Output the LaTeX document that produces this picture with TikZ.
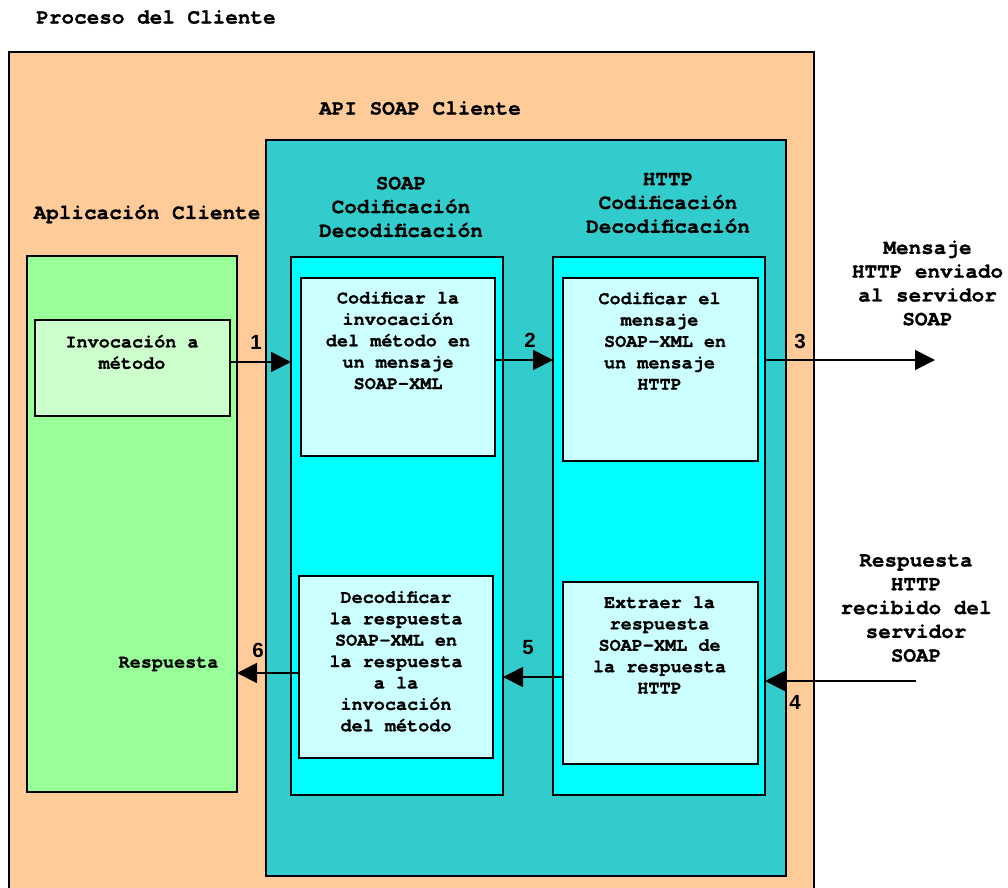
\documentclass[tikz,border=0pt]{standalone}
\usepackage{fontspec}
\setmainfont{TeX Gyre Cursor}[BoldFeatures={FakeBold=1}]
\newfontfamily\numfont{Liberation Sans}
\usetikzlibrary{arrows.meta}
\definecolor{procfill}{HTML}{FFCC99}
\definecolor{apifill}{HTML}{33CCCC}
\definecolor{appfill}{HTML}{99FF99}
\definecolor{invfill}{HTML}{CCFFCC}
\definecolor{colfill}{HTML}{00FFFF}
\definecolor{stepfill}{HTML}{CCFFFF}
\begin{document}
\begin{tikzpicture}[x=1pt,y=-1pt,
  frame/.style={draw=black, line width=1.8pt, inner sep=0pt, outer sep=0pt, anchor=north west},
  boxtext/.style={font=\bfseries\fontsize{18.5}{21.4}\selectfont, align=center, inner sep=0pt},
  head/.style={font=\bfseries\fontsize{21}{23.8}\selectfont, align=center, inner sep=0pt},
  num/.style={font=\numfont\bfseries\fontsize{20.5}{24}\selectfont, inner sep=0pt},
  arr/.style={line width=1.8pt, -{Triangle[length=20pt,width=20pt]}}]
\useasboundingbox[fill=white] (0,0) rectangle (1008,887);

% nested containers
\node[frame, fill=procfill, minimum width=805pt, minimum height=900pt] (proc) at (9,52) {};
\node[frame, fill=apifill, minimum width=520pt, minimum height=736pt] (api) at (266,140) {};
\node[frame, fill=appfill, minimum width=210pt, minimum height=536pt] (app) at (27,256) {};
\node[frame, fill=invfill, minimum width=195pt, minimum height=96pt] (inv) at (35,320) {};
\node[frame, fill=colfill, minimum width=212pt, minimum height=538pt] (soapcol) at (291,257) {};
\node[frame, fill=colfill, minimum width=212pt, minimum height=538pt] (httpcol) at (553,257) {};

% processing steps
\node[frame, fill=stepfill, minimum width=194pt, minimum height=178pt] (enc1) at (301,278) {};
\node[frame, fill=stepfill, minimum width=195pt, minimum height=183pt] (enc2) at (563,278) {};
\node[frame, fill=stepfill, minimum width=194pt, minimum height=182pt] (dec1) at (299,576) {};
\node[frame, fill=stepfill, minimum width=195pt, minimum height=182pt] (dec2) at (563,582) {};

% titles
\node[head] (tproc) at (156,17) {Proceso del Cliente};
\node[head] (tapi) at (420,108) {API SOAP Cliente};
\node[head] (tapp) at (147,214) {Aplicación Cliente};
\node[head] (tsoap) at (401,207) {SOAP\\Codificación\\Decodificación};
\node[head] (thttp) at (668,203) {HTTP\\Codificación\\Decodificación};

% step texts
\node[boxtext] (tinv) at (132,352) {Invocación a\\método};
\node[boxtext] (tenc1) at (398,340.5) {Codificar la\\invocación\\del método en\\un mensaje\\SOAP-XML};
\node[boxtext] (tenc2) at (659.5,341) {Codificar el\\mensaje\\~SOAP-XML en\\un mensaje\\HTTP};
\node[boxtext] (tdec1) at (396,661.3) {Decodificar\\la respuesta\\SOAP-XML en\\la respuesta\\a la\\invocación\\del método};
\node[boxtext] (tdec2) at (659.5,645) {Extraer la\\respuesta\\SOAP-XML de\\la respuesta\\HTTP};
\node[boxtext] (tresp) at (168.5,664) {Respuesta};

% external messages
\node[head] (tout) at (927.5,283) {Mensaje\\HTTP enviado\\al servidor\\SOAP};
\node[head] (tin) at (916,608) {Respuesta\\HTTP\\recibido del\\servidor\\SOAP};

% flow arrows
\coordinate (y1) at (0,362);
\coordinate (y2) at (0,360);
\coordinate (out3) at (935,360);
\coordinate (in4) at (916,681);
\coordinate (y5) at (0,677);
\coordinate (y6) at (0,673);
\draw[arr] (inv.east |- y1) -- (soapcol.west |- y1);
\draw[arr] (enc1.east |- y2) -- (httpcol.west |- y2);
\draw[arr] (httpcol.east |- out3) -- (out3);
\draw[arr] (in4) -- (httpcol.east |- in4);
\draw[arr] (dec2.west |- y5) -- (soapcol.east |- y5);
\draw[arr] (dec1.west |- y6) -- (app.east |- y6);

% step numbers
\node[num] (n1) at (256,342) {1};
\node[num] (n2) at (530,340) {2};
\node[num] (n3) at (800,341) {3};
\node[num] (n4) at (795,702) {4};
\node[num] (n5) at (528,648) {5};
\node[num] (n6) at (258,650) {6};
\end{tikzpicture}
\end{document}
